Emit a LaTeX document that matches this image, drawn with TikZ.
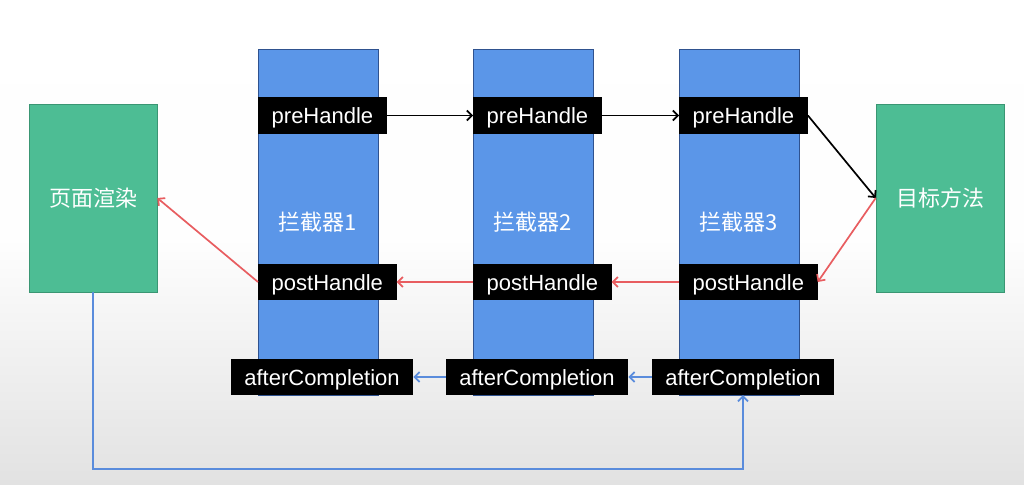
\documentclass[tikz,border=0pt]{standalone}
\usepackage{fontspec}
\setmainfont{Liberation Sans}
\newfontfamily\cjk{Noto Sans CJK SC}
\usepackage{xcolor}
\usetikzlibrary{positioning,arrows.meta}
\definecolor{pagegreen}{RGB}{77,189,148}
\definecolor{pagegreenline}{RGB}{58,150,115}
\definecolor{colblue}{RGB}{91,150,232}
\definecolor{colblueline}{RGB}{47,82,143}
\definecolor{backred}{RGB}{232,93,96}
\definecolor{doneblue}{RGB}{90,140,220}
\definecolor{bgbottom}{RGB}{226,226,226}

\begin{document}
\begin{tikzpicture}[x=1pt, y=-1pt,
  endbox/.style={draw=pagegreenline, fill=pagegreen, line width=0.6pt,
    minimum width=128pt, minimum height=188pt, text=white,
    font=\fontsize{22}{26}\selectfont\cjk},
  column/.style={draw=colblueline, fill=colblue, line width=0.6pt,
    minimum width=120pt, minimum height=346pt, text=white,
    font=\fontsize{22}{26}\selectfont\cjk},
  hook/.style={fill=black, text=white, inner xsep=13.5pt, inner ysep=0pt,
    text height=16pt, text depth=0pt,
    minimum height=36pt, font=\fontsize{22}{26}\selectfont},
  go/.style={-{Straight Barb[length=5pt,width=10pt]}, line width=1.7pt},
  fwd/.style={go, black},
  back/.style={go, backred},
  done/.style={go, doneblue}]
\shade[top color=white, bottom color=bgbottom, middle color=white!95!bgbottom]
  (0,0) rectangle (1024,484);
\useasboundingbox (0,0) rectangle (1024,484);

\node[endbox] (render) at (93,198) {页面渲染};
\node[endbox] (target) at (940,198) {目标方法};

\node[column] (col1) at (318,222) {拦截器1};
\node[column] (col2) at (533,222) {拦截器2};
\node[column] (col3) at (739,222) {拦截器3};

\node[hook, anchor=west] (pre1) at (258,115.5) {preHandle};
\node[hook, anchor=west] (pre2) at (473,115.5) {preHandle};
\node[hook, anchor=west] (pre3) at (679,115.5) {preHandle};

\node[hook, anchor=west] (post1) at (258,282) {postHandle};
\node[hook, anchor=west] (post2) at (473,282) {postHandle};
\node[hook, anchor=west] (post3) at (679,282) {postHandle};

\node[hook] (after1) at (322,377) {afterCompletion};
\node[hook] (after2) at (537,377) {afterCompletion};
\node[hook] (after3) at (743,377) {afterCompletion};

\draw[fwd] (pre1) -- (pre2);
\draw[fwd] (pre2) -- (pre3);
\draw[fwd] (pre3.east) -- (target.west);

\draw[back] (target.west) -- (post3.east);
\draw[back] (post3) -- (post2);
\draw[back] (post2) -- (post1);
\draw[back] (post1.west) -- (render.east);

\draw[done] (after3) -- (after2);
\draw[done] (after2) -- (after1);
\draw[done] (render.south) -- ++(0,177) -| (after3.south);
\end{tikzpicture}
\end{document}
